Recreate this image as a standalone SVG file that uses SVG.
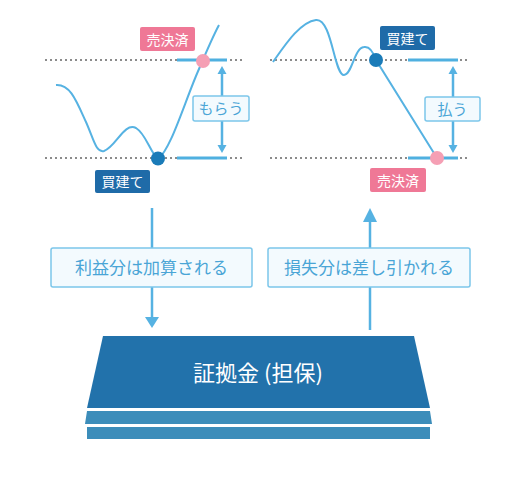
<svg xmlns="http://www.w3.org/2000/svg" width="521" height="477" viewBox="0 0 521 477">
<defs>
<style>
.dot{stroke:#666;stroke-width:1.6;stroke-dasharray:2 3;fill:none}
.lvl{stroke:#4fb0e0;stroke-width:3;fill:none}
.curve{stroke:#56b2e2;stroke-width:2;fill:none}
.conn{stroke:#56b2e2;stroke-width:2.5;fill:none}
.head{fill:#56b2e2}
.box{fill:#f3fafe;stroke:#7cc6ea;stroke-width:1.5}
.boxt{fill:#4aa5d6;font-family:"Noto Sans CJK JP","Noto Sans",sans-serif;text-anchor:middle}
.lab{fill:#fff;font-family:"Noto Sans CJK JP","Noto Sans",sans-serif;font-size:14px;text-anchor:middle}
</style>
</defs>
<g id="chart-left">
<line class="dot" x1="45" y1="60" x2="242" y2="60"/>
<line class="dot" x1="45" y1="158" x2="242" y2="158"/>
<line class="lvl" x1="177" y1="60" x2="227" y2="60"/>
<line class="lvl" x1="177" y1="158" x2="227" y2="158"/>
<path class="curve" d="M56,85 C70,84 76,100 86,122 C94,140 96,153 104,151 C116,147 124,122 136,128 C146,134 150,152 158,159 C170,150 182,110 196,76 C205,55 212,38 219,25"/>
<circle cx="203" cy="61" r="7" fill="#f59fb4"/>
<circle cx="158" cy="158.5" r="7" fill="#1a7bb8"/>
<rect x="140" y="27" width="55" height="24" rx="2" fill="#ef7896"/>
<text class="lab" x="167.5" y="44.5">売決済</text>
<rect x="95" y="170" width="55" height="23" rx="2" fill="#1f6ba8"/>
<text class="lab" x="122.5" y="186.5">買建て</text>
<line class="conn" x1="222" y1="72" x2="222" y2="147"/>
<path class="head" d="M222,66L226.5,74L217.5,74z"/>
<path class="head" d="M222,153L226.5,145L217.5,145z"/>
<rect class="box" x="193" y="96" width="56" height="25" rx="2"/>
<text class="boxt" x="221" y="114" font-size="15">もらう</text>
</g>
<g id="chart-right">
<line class="dot" x1="270" y1="60" x2="468" y2="60"/>
<line class="dot" x1="270" y1="158" x2="468" y2="158"/>
<line class="lvl" x1="408" y1="60" x2="458" y2="60"/>
<line class="lvl" x1="408" y1="158" x2="458" y2="158"/>
<path class="curve" d="M273,62 C285,45 300,22 316,20 C332,18 334,75 344,75 C352,75 354,48 364,47 C370,46 374,54 376,60 L437,158"/>
<circle cx="376" cy="60" r="7" fill="#1a7bb8"/>
<circle cx="437" cy="158" r="7" fill="#f59fb4"/>
<rect x="380" y="26" width="55" height="24" rx="2" fill="#1f6ba8"/>
<text class="lab" x="407.5" y="43.5">買建て</text>
<rect x="370" y="168" width="56" height="24" rx="2" fill="#ef7896"/>
<text class="lab" x="398" y="185.5">売決済</text>
<line class="conn" x1="453" y1="72" x2="453" y2="147"/>
<path class="head" d="M453,66L457.5,74L448.5,74z"/>
<path class="head" d="M453,153L457.5,145L448.5,145z"/>
<rect class="box" x="425" y="97" width="55" height="24" rx="2"/>
<text class="boxt" x="452.5" y="115" font-size="15">払う</text>
</g>
<g id="connectors">
<line class="conn" x1="152" y1="208" x2="152" y2="320"/>
<path class="head" d="M145,317L159,317L152,328z"/>
<line class="conn" x1="370" y1="218" x2="370" y2="330"/>
<path class="head" d="M363,222L377,222L370,208z"/>
</g>
<g id="label-profit">
<rect class="box" x="51" y="248" width="201" height="39" rx="2"/>
<text class="boxt" x="151.5" y="274" font-size="17">利益分は加算される</text>
</g>
<g id="label-loss">
<rect class="box" x="268" y="248" width="202" height="39" rx="2"/>
<text class="boxt" x="369" y="274" font-size="17">損失分は差し引かれる</text>
</g>
<g id="margin">
<path d="M103,336L414,336L430,408L87,408z" fill="#2272ab"/>
<path d="M87,411L430,411L432,424L85,424z" fill="#3c8dba"/>
<path d="M87,427L430,427L430,439L87,439z" fill="#3c8dba"/>
<text x="258" y="381" fill="#fff" font-family="'Noto Sans CJK JP','Noto Sans',sans-serif" font-size="22" text-anchor="middle">証拠金 (担保)</text>
</g>
</svg>
